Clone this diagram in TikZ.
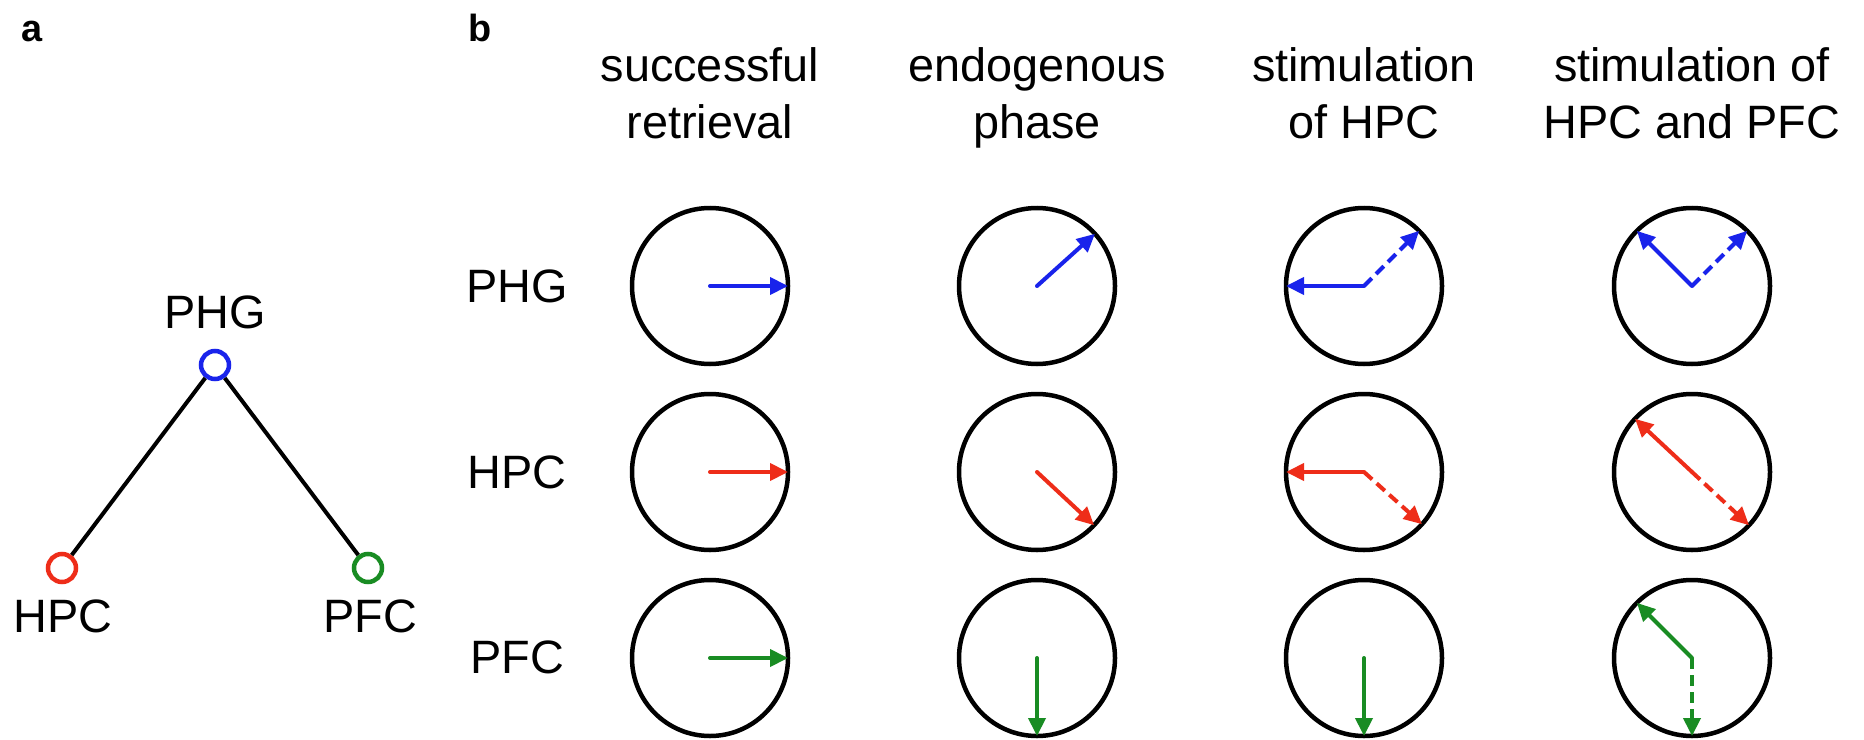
\documentclass[tikz,border=0pt]{standalone}
\usepackage{fontspec}
\setmainfont{Liberation Sans}
\usetikzlibrary{arrows.meta}
\definecolor{mblue}{RGB}{25,35,235}
\definecolor{mred}{RGB}{238,45,25}
\definecolor{mgreen}{RGB}{25,140,35}
\tikzset{
 lbl/.style={font=\fontsize{47}{56}\selectfont, anchor=base, inner sep=0},
 panel/.style={font=\bfseries\fontsize{38}{44}\selectfont, anchor=base, inner sep=0},
 dial/.style={circle, draw=black, line width=4.5bp, minimum size=156bp, inner sep=0, outer sep=0},
 dot/.style={circle, line width=4.5bp, minimum size=28bp, inner sep=0},
 vec/.style={line width=4bp, line cap=round, -{Triangle[length=18bp,width=17bp]}},
 dvec/.style={line width=4bp, dash pattern=on 11bp off 6bp, -{Triangle[length=18bp,width=17bp]}},
 link/.style={line width=4bp, draw=black},
}
\begin{document}
\begin{tikzpicture}[x=1bp,y=-1bp]
\fill[white] (0,0) rectangle (1864,740);
\useasboundingbox (0,0) rectangle (1864,740);

% panel labels
\node[panel] (pa) at (32,42) {a};
\node[panel] (pb) at (480,42) {b};

% panel a
\node[dot, draw=mblue] (aphg) at (215,365) {};
\node[dot, draw=mred] (ahpc) at (62,568) {};
\node[dot, draw=mgreen] (apfc) at (368,568) {};
\draw[link] (aphg) -- (ahpc);
\draw[link] (aphg) -- (apfc);
\node[lbl] (tphg) at (215,328) {PHG};
\node[lbl] (thpc) at (63,632) {HPC};
\node[lbl] (tpfc) at (370,632) {PFC};

% column headers
\node[lbl] (h1a) at (710,82) {successful};
\node[lbl] (h1b) at (710,138) {retrieval};
\node[lbl] (h2a) at (1037,82) {endogenous};
\node[lbl] (h2b) at (1037,138) {phase};
\node[lbl] (h3a) at (1364,82) {stimulation};
\node[lbl] (h3b) at (1364,138) {of HPC};
\node[lbl] (h4a) at (1692,82) {stimulation of};
\node[lbl] (h4b) at (1692,138) {HPC and PFC};

% row labels
\node[lbl] (r1) at (517,302) {PHG};
\node[lbl] (r2) at (517,488) {HPC};
\node[lbl] (r3) at (517,673) {PFC};

% dials
\foreach \c/\x in {1/710,2/1037,3/1364,4/1692}{
  \foreach \r/\y in {1/286,2/472,3/658}{
    \node[dial] (c\r\c) at (\x,\y) {};
  }
}

% row 1 (PHG, blue)
\draw[vec, mblue] (c11.center) -- (c11.0);
\draw[vec, mblue] (c12.center) -- (c12.42);
\draw[vec, mblue] (c13.center) -- (c13.180);
\draw[dvec, mblue] (c13.center) -- (c13.45);
\draw[vec, mblue] (c14.center) -- (c14.135);
\draw[dvec, mblue] (c14.center) -- (c14.45);

% row 2 (HPC, red)
\draw[vec, mred] (c21.center) -- (c21.0);
\draw[vec, mred] (c22.center) -- (c22.-43);
\draw[vec, mred] (c23.center) -- (c23.180);
\draw[dvec, mred] (c23.center) -- (c23.-42);
\draw[vec, mred] (c24.center) -- (c24.137);
\draw[dvec, mred] (c24.center) -- (c24.-43);

% row 3 (PFC, green)
\draw[vec, mgreen] (c31.center) -- (c31.0);
\draw[vec, mgreen] (c32.center) -- (c32.270);
\draw[vec, mgreen] (c33.center) -- (c33.270);
\draw[vec, mgreen] (c34.center) -- (c34.135);
\draw[dvec, mgreen] (c34.center) -- (c34.270);
\end{tikzpicture}
\end{document}
